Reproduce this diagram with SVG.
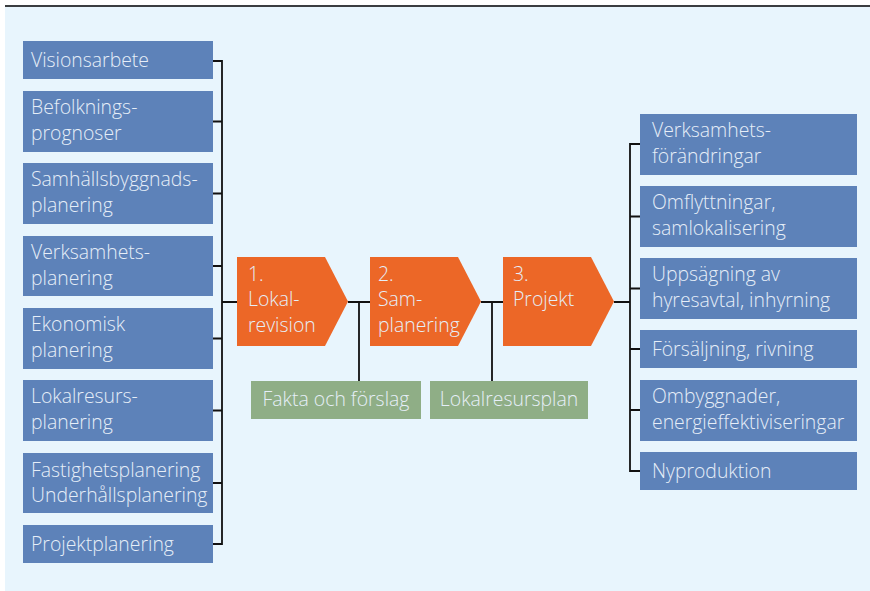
<svg xmlns="http://www.w3.org/2000/svg" width="870" height="591" viewBox="0 0 870 591">
<style>
.bg{fill:#e8f5fd}
.b{fill:#5d82b9}
.o{fill:#ec6727}
.g{fill:#8fae86}
text{font-family:"Open Sans","Liberation Sans",sans-serif;font-weight:300;font-size:19.4px;fill:#e6eef8}
.c{fill:none;stroke:#111;stroke-width:1.8}
.m{text-anchor:middle}
</style>
<rect x="0" y="0" width="870" height="591" fill="#ffffff"/>
<rect class="bg" x="5" y="7" width="865" height="584"/>
<line x1="5" y1="6" x2="870" y2="6" stroke="#3a3d40" stroke-width="2"/>
<g id="connectors">
<path class="c" d="M213 61H222V544H213 M213 121.5H222 M213 193.5H222 M213 266H222 M213 338.5H222 M213 410.5H222 M213 483H222 M222 302H237"/>
<path class="c" d="M348 302H370 M481 302H503 M614 302H630 M359 302V381 M492 302V381"/>
<path class="c" d="M640 144H630V471H640 M630 216.5H640 M630 288.5H640 M630 349H640 M630 410H640"/>
</g>
<g id="n-visionsarbete"><rect class="b" x="23" y="41" width="190" height="38"/><text x="31" y="66.5">Visionsarbete</text></g>
<g id="n-befolkning"><rect class="b" x="23" y="91" width="190" height="61"/><text x="31" y="114">Befolknings-</text><text x="31" y="140">prognoser</text></g>
<g id="n-samhall"><rect class="b" x="23" y="163" width="190" height="61"/><text x="31" y="186">Samhällsbyggnads-</text><text x="31" y="212">planering</text></g>
<g id="n-verksamhetsplan"><rect class="b" x="23" y="236" width="190" height="60"/><text x="31" y="259">Verksamhets-</text><text x="31" y="285">planering</text></g>
<g id="n-ekonomisk"><rect class="b" x="23" y="308" width="190" height="61"/><text x="31" y="331">Ekonomisk</text><text x="31" y="357">planering</text></g>
<g id="n-lokalresurs"><rect class="b" x="23" y="380" width="190" height="61"/><text x="31" y="403">Lokalresurs-</text><text x="31" y="429">planering</text></g>
<g id="n-fastighet"><rect class="b" x="23" y="453" width="190" height="60"/><text x="31" y="477">Fastighetsplanering</text><text x="31" y="501.5">Underhållsplanering</text></g>
<g id="n-projektplanering"><rect class="b" x="23" y="525" width="190" height="38"/><text x="31" y="550.5">Projektplanering</text></g>
<g id="n-step1"><path class="o" d="M237 257H325L348 301.5L325 346H237Z"/><text x="248" y="280.5">1.</text><text x="248" y="306">Lokal-</text><text x="248" y="332">revision</text></g>
<g id="n-step2"><path class="o" d="M370 257H458L481 301.5L458 346H370Z"/><text x="378" y="280.5">2.</text><text x="378" y="306">Sam-</text><text x="378" y="332">planering</text></g>
<g id="n-step3"><path class="o" d="M503 257H591L614 301.5L591 346H503Z"/><text x="513" y="280.5">3.</text><text x="513" y="306">Projekt</text></g>
<g id="n-fakta"><rect class="g" x="251" y="381" width="170" height="38"/><text class="m" x="336" y="406">Fakta och förslag</text></g>
<g id="n-lokalresursplan"><rect class="g" x="430" y="381" width="158" height="38"/><text class="m" x="509" y="406">Lokalresursplan</text></g>
<g id="n-verksamhetsforandringar"><rect class="b" x="640" y="114" width="217" height="61"/><text x="652" y="137">Verksamhets-</text><text x="652" y="163">förändringar</text></g>
<g id="n-omflyttningar"><rect class="b" x="640" y="186" width="217" height="61"/><text x="652" y="209">Omflyttningar,</text><text x="652" y="235">samlokalisering</text></g>
<g id="n-uppsagning"><rect class="b" x="640" y="258" width="217" height="61"/><text x="652" y="281">Uppsägning av</text><text x="652" y="307">hyresavtal, inhyrning</text></g>
<g id="n-forsaljning"><rect class="b" x="640" y="330" width="217" height="38"/><text x="652" y="355.5">Försäljning, rivning</text></g>
<g id="n-ombyggnader"><rect class="b" x="640" y="380" width="217" height="61"/><text x="652" y="403">Ombyggnader,</text><text x="652" y="429">energieffektiviseringar</text></g>
<g id="n-nyproduktion"><rect class="b" x="640" y="452" width="217" height="38"/><text x="652" y="477.5">Nyproduktion</text></g>
</svg>
